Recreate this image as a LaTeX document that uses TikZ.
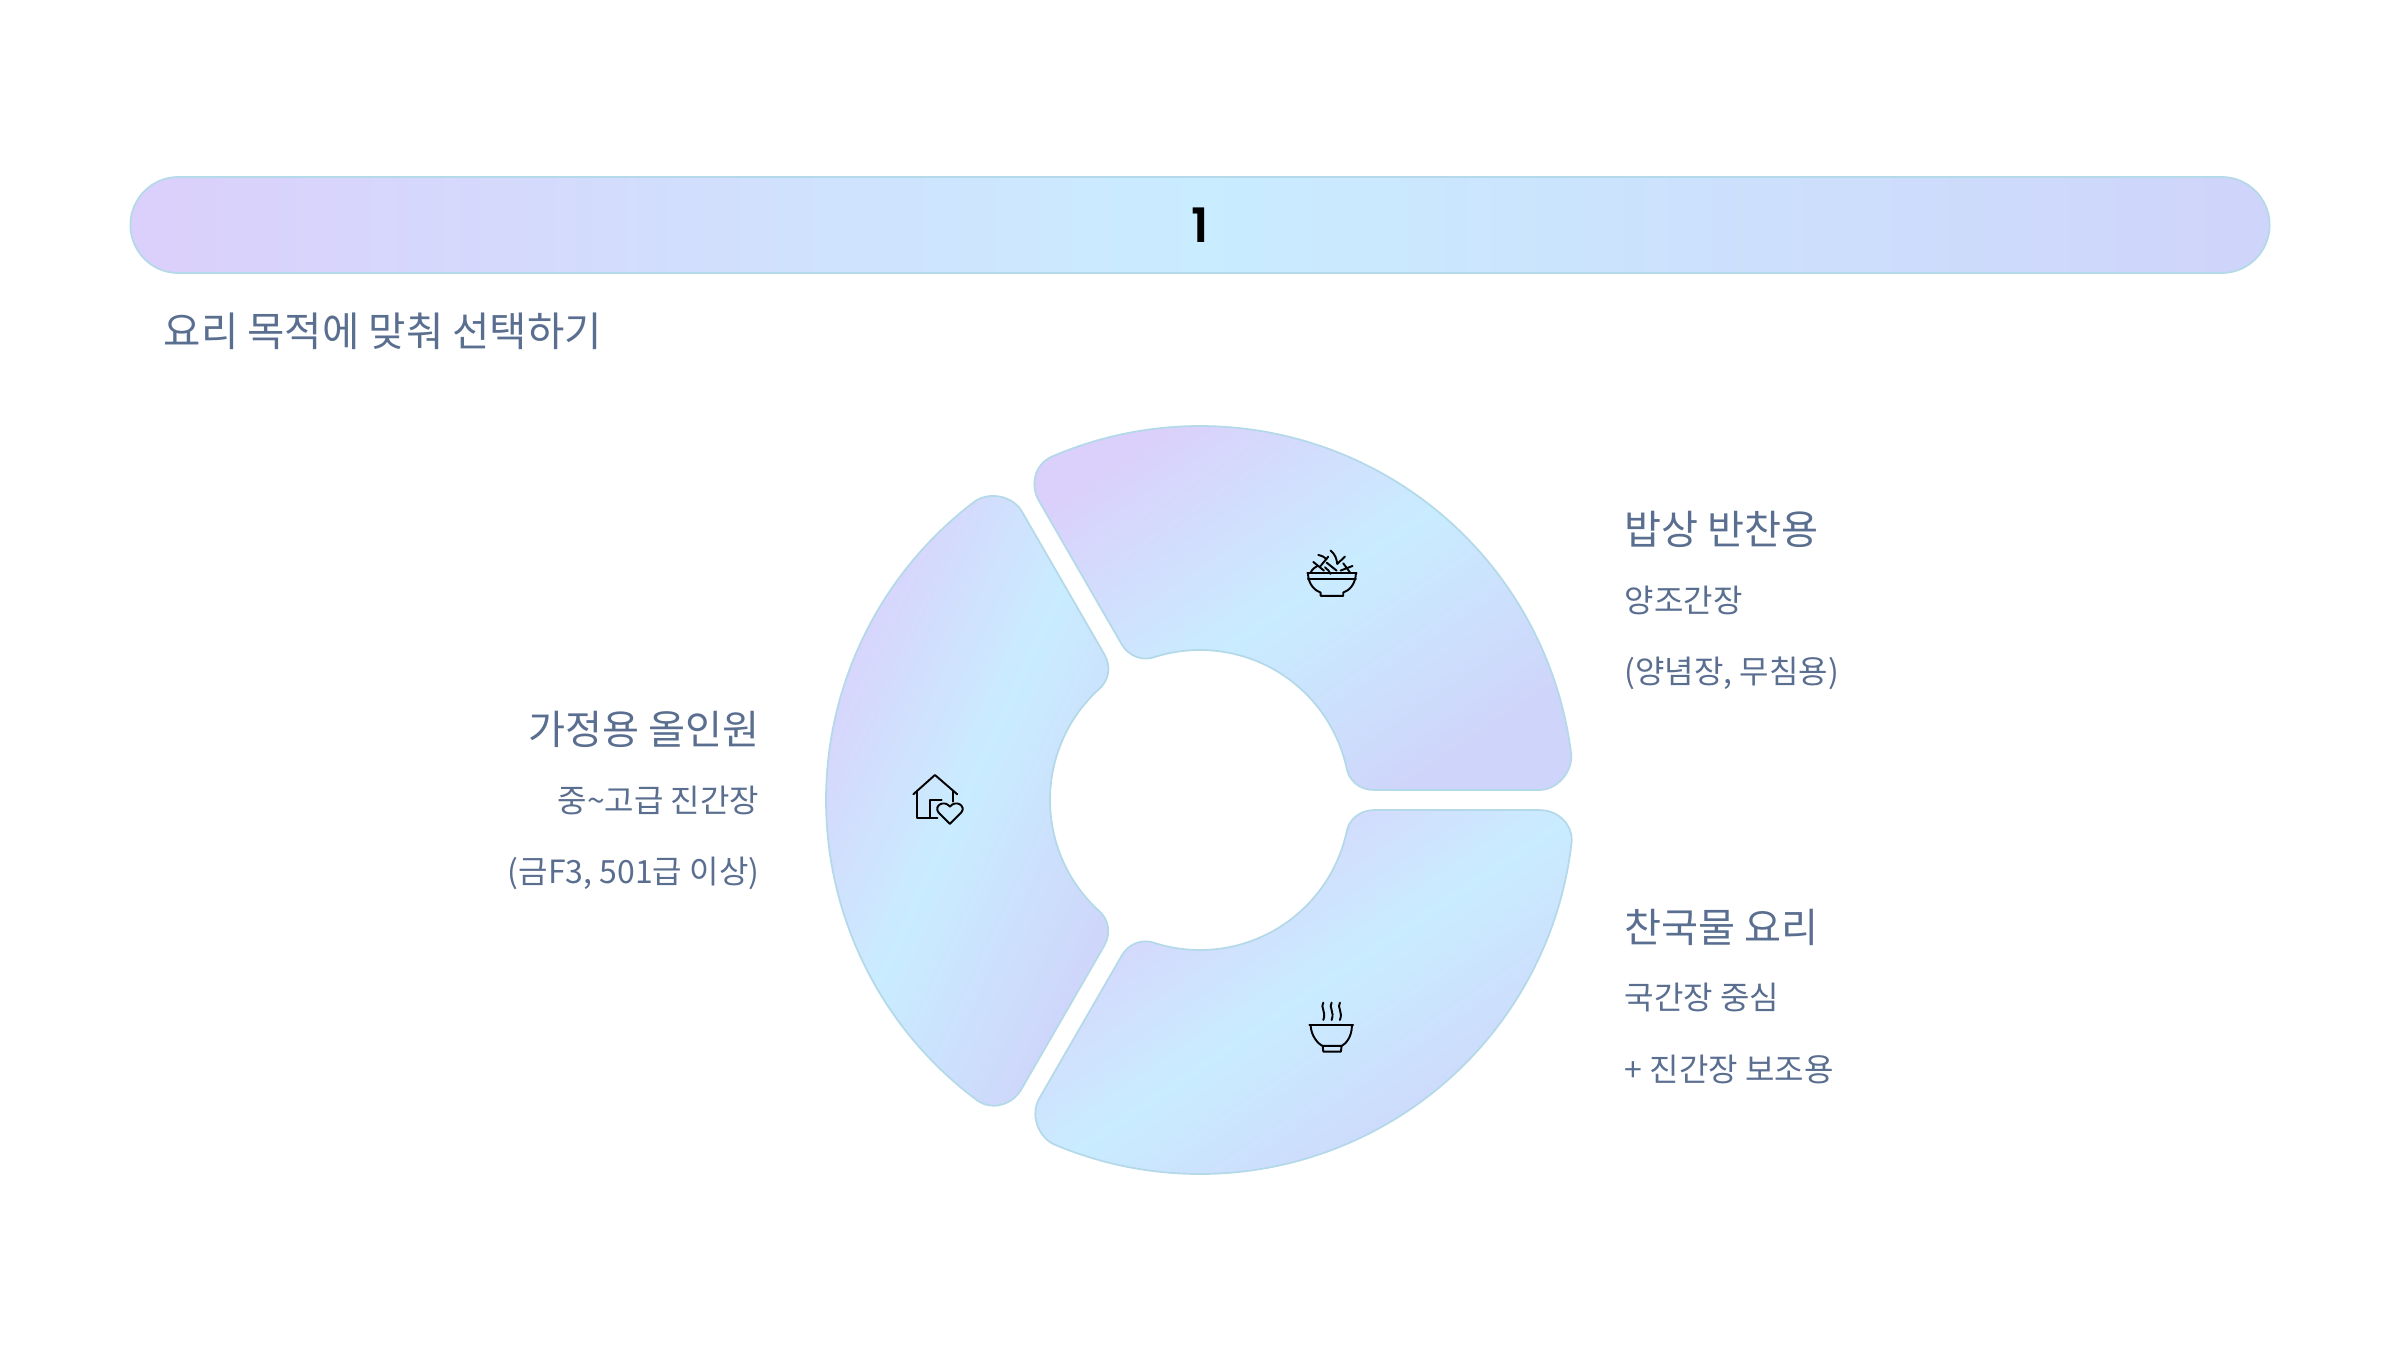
\documentclass[tikz,border=0pt]{standalone}
\usepackage{fontspec}
\setmainfont{Noto Sans CJK KR}
\newfontfamily\numfont{Poppins SemiBold}
\usepackage{xcolor}
\usetikzlibrary{calc,positioning}
\definecolor{hueA}{HTML}{DBCFFB}
\definecolor{hueB}{HTML}{C9ECFF}
\definecolor{hueC}{HTML}{CFD4FA}
\definecolor{edge}{HTML}{B4D9E8}
\definecolor{ink}{HTML}{5A6E90}

\begin{document}
\begin{tikzpicture}[
  x=0.01cm, y=0.01cm,
  segment/.style={draw=edge, line width=0.5pt, left color=hueA, right color=hueC, middle color=hueB},
  bar/.style={draw=edge, line width=0.5pt, left color=hueA, right color=hueC, middle color=hueB, rounded corners=0.48cm, minimum width=21.38cm, minimum height=0.96cm, inner sep=0pt, font=\numfont\fontsize{13.5}{16}\selectfont, text=black},
  head/.style={font=\fontsize{11.45}{14}\selectfont, text=ink, inner sep=0pt},
  sub/.style={font=\fontsize{9.1}{12}\selectfont, text=ink, inner sep=0pt},
  icon/.style={draw=black, line width=0.55pt, line cap=round, line join=round}
]
\useasboundingbox (0,0) rectangle (2400,1350);

\node[bar] (pill) at (1200,1125) {1};
\node[head, anchor=west, font=\fontsize{11.55}{14}\selectfont] (title) at (163,1019) {요리 목적에 맞춰 선택하기};

% three rounded ring pieces
\begin{scope}[shift={(1200,550)}]
\foreach \rot/\ang in {0/34,-120/34,120/65} {
  \draw[segment, shading angle=\ang, rotate=\rot] (113.5:374) arc[start angle=113.5, end angle=7, radius=374]
    .. controls (372.6,27.8) and (357,10) .. (339,10) -- (174,10)
    .. controls (159.4,10) and (148.3,19.5) .. (13:150) arc[start angle=13, end angle=107, radius=150]
    .. controls (-57.3,138.1) and (-71,143.5) .. (-78.3,155.7) -- (-161,299)
    .. controls (-170.5,315.4) and (-165,335.3) .. cycle;
}
\end{scope}

% labels
\node[head, anchor=west] (ricehead) at (1624,821) {밥상 반찬용};
\node[sub, anchor=west] (riceone) at ($(ricehead.west)+(0,-71)$) {양조간장};
\node[sub, anchor=west] (ricetwo) at ($(riceone.west)+(0,-73)$) {(양념장, 무침용)};

\node[head, anchor=west] (souphead) at (1624,423) {찬국물 요리};
\node[sub, anchor=west] (soupone) at ($(souphead.west)+(0,-71)$) {국간장 중심};
\node[sub, anchor=west] (souptwo) at ($(soupone.west)+(0,-71)$) {+ 진간장 보조용};

\node[head, anchor=east] (homehead) at (760,621) {가정용 올인원};
\node[sub, anchor=east] (homeone) at ($(homehead.east)+(0,-71)$) {중\textasciitilde 고급 진간장};
\node[sub, anchor=east] (hometwo) at ($(homeone.east)+(0,-73)$) {(금F3, 501급 이상)};

% icons, typed in 3x crop units
\begin{scope}[shift={(1280,820)}, x=0.00333cm, y=-0.00333cm]
\draw[icon] (82,130) -- (230,130) (84,148) -- (228,148);
\draw[icon] (84,132) .. controls (86,165) and (105,182) .. (122,188) -- (122,198) -- (190,198) -- (190,188) .. controls (207,182) and (226,165) .. (228,132);
\draw[icon] (92,128) .. controls (97,118) and (104,112) .. (112,108);
\draw[icon] (100,96) -- (132,122) (115,75) .. controls (128,78) and (135,82) .. (140,88) (122,108) -- (145,80);
\draw[icon] (152,62) .. controls (165,72) and (170,85) .. (172,102) -- (195,80);
\draw[icon] (140,98) -- (170,122) (135,112) .. controls (143,118) and (148,124) .. (152,132);
\draw[icon] (190,100) -- (212,130) (182,122) -- (218,108);
\end{scope}

\begin{scope}[shift={(900,590)}, x=0.00333cm, y=-0.00333cm]
\draw[icon] (40,103) -- (105,45) -- (172,103);
\draw[icon] (160,92) -- (160,125);
\draw[icon] (52,95) -- (52,175) -- (112,175);
\draw[icon] (90,175) -- (90,120) -- (125,120);
\draw[icon] (150,192) -- (116,158) .. controls (100,138) and (132,118) .. (150,140) .. controls (168,118) and (200,138) .. (184,158) -- cycle;
\end{scope}

\begin{scope}[shift={(1290,360)}, x=0.00333cm, y=-0.00333cm]
\draw[icon] (58,105) -- (190,105);
\draw[icon] (62,107) .. controls (64,140) and (85,162) .. (98,168) -- (155,168) .. controls (168,162) and (186,140) .. (186,107);
\draw[icon] (98,168) -- (100,185) -- (153,185) -- (155,168);
\foreach \sx in {100,125,150} {
  \draw[icon, xshift=\sx*0.00333cm] (0,38) .. controls (-10,52) and (10,65) .. (0,90);
}
\end{scope}
\end{tikzpicture}
\end{document}
